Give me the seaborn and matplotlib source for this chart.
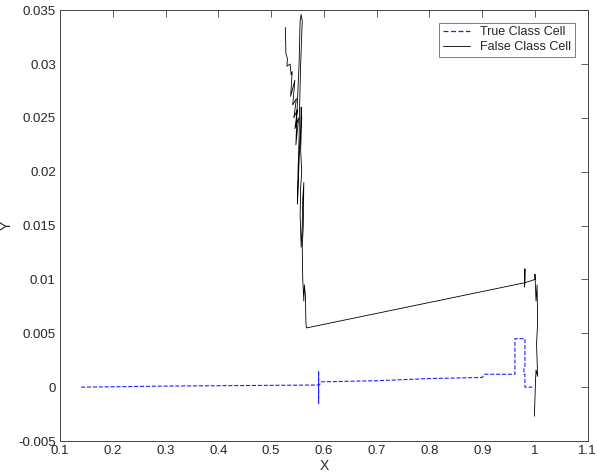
import matplotlib
matplotlib.use("Agg")
import matplotlib.pyplot as plt
import seaborn as sns
from matplotlib.lines import Line2D
from matplotlib.ticker import FuncFormatter

# blue dashed path (True Class Cell)
true_x = [0.140, 0.300, 0.590, 0.590, 0.590, 0.590, 0.593, 0.595, 0.600, 0.700,
          0.800, 0.900, 0.905, 0.962, 0.962, 0.981, 0.981, 0.979, 0.979, 0.981,
          0.981, 0.995]
true_y = [0.0000, 0.0001, 0.0002, 0.0015, -0.0015, 0.0002, 0.0003, 0.0005, 0.0005, 0.0006,
          0.0008, 0.0009, 0.0012, 0.0012, 0.0045, 0.0045, 0.0020, 0.0018, 0.0012, 0.0012,
          0.0000, 0.0000]

# black solid path (False Class Cell)
false_x = [0.527, 0.528, 0.531, 0.530, 0.536, 0.538, 0.540, 0.537, 0.545, 0.541,
           0.548, 0.543, 0.550, 0.545, 0.552, 0.547, 0.549, 0.553, 0.555, 0.557,
           0.559, 0.556, 0.554, 0.553, 0.551, 0.550, 0.553, 0.556, 0.557, 0.558,
           0.556, 0.558, 0.556, 0.555, 0.557, 0.559, 0.560, 0.562, 0.561, 0.559,
           0.560, 0.562, 0.563, 0.565, 0.566, 0.567, 0.981, 0.981, 0.980, 0.981,
           1.000, 1.000, 1.002, 1.004, 1.005, 1.003, 1.005, 1.002, 1.001, 1.000,
           0.999]
false_y = [0.0334, 0.0310, 0.0305, 0.0298, 0.0300, 0.0290, 0.0293, 0.0270, 0.0285, 0.0262,
           0.0268, 0.0250, 0.0258, 0.0240, 0.0250, 0.0225, 0.0255, 0.0300, 0.0340, 0.0346,
           0.0340, 0.0300, 0.0260, 0.0230, 0.0200, 0.0170, 0.0210, 0.0240, 0.0260, 0.0250,
           0.0220, 0.0200, 0.0185, 0.0160, 0.0130, 0.0150, 0.0175, 0.0190, 0.0150, 0.0130,
           0.0100, 0.0080, 0.0095, 0.0085, 0.0060, 0.0055, 0.0097, 0.0110, 0.0093, 0.0097,
           0.0100, 0.0105, 0.0080, 0.0095, 0.0060, 0.0040, 0.0010, 0.0016, 0.0005, -0.0010,
           -0.0027]

x_ticks = [0.1, 0.2, 0.3, 0.4, 0.5, 0.6, 0.7, 0.8, 0.9, 1.0, 1.1]
y_ticks = [-0.005, 0, 0.005, 0.01, 0.015, 0.02, 0.025, 0.03, 0.035]

sns.set_style("white")
plt.rcParams['font.family'] = ['Liberation Sans', 'DejaVu Sans']

fig = plt.figure(figsize=(5.97, 4.76), dpi=100)
ax = fig.add_axes([0.1005, 0.0735, 0.884, 0.905])

sns.lineplot(x=true_x, y=true_y, sort=False, estimator=None, ax=ax,
             color='#2020ff', linestyle='--', linewidth=0.8)
sns.lineplot(x=false_x, y=false_y, sort=False, estimator=None, ax=ax,
             color='black', linestyle='-', linewidth=0.6)

ax.set_xlim(0.1, 1.1)
ax.set_ylim(-0.005, 0.035)
ax.set_xticks(x_ticks)
ax.set_yticks(y_ticks)
ax.xaxis.set_major_formatter(FuncFormatter(lambda v, p: f'{v:g}'))
ax.yaxis.set_major_formatter(FuncFormatter(lambda v, p: f'{v:g}'))
ax.tick_params(direction='in', top=True, right=True, length=5, width=0.6,
               color='#444444', labelsize=9.5, pad=3)
for s in ax.spines.values():
    s.set_color('#444444')
    s.set_linewidth(0.7)

ax.set_xlabel('X', fontsize=10, labelpad=1)
ax.set_ylabel('Y', fontsize=10, rotation=90)
ax.yaxis.set_label_coords(-0.088, 0.5)

handles = [Line2D([], [], color='#2020ff', linestyle=(0, (4, 2)), linewidth=0.9),
           Line2D([], [], color='black', linestyle='-', linewidth=0.6)]
leg = ax.legend(handles, ['True Class Cell', 'False Class Cell'],
                loc='upper right', fontsize=9, frameon=True, fancybox=False,
                borderaxespad=1.0, handlelength=2.2, borderpad=0.3,
                labelspacing=0.2)
leg.get_frame().set_edgecolor('#444444')
leg.get_frame().set_linewidth(0.6)

fig.savefig('out.png', dpi=100, facecolor='white')
